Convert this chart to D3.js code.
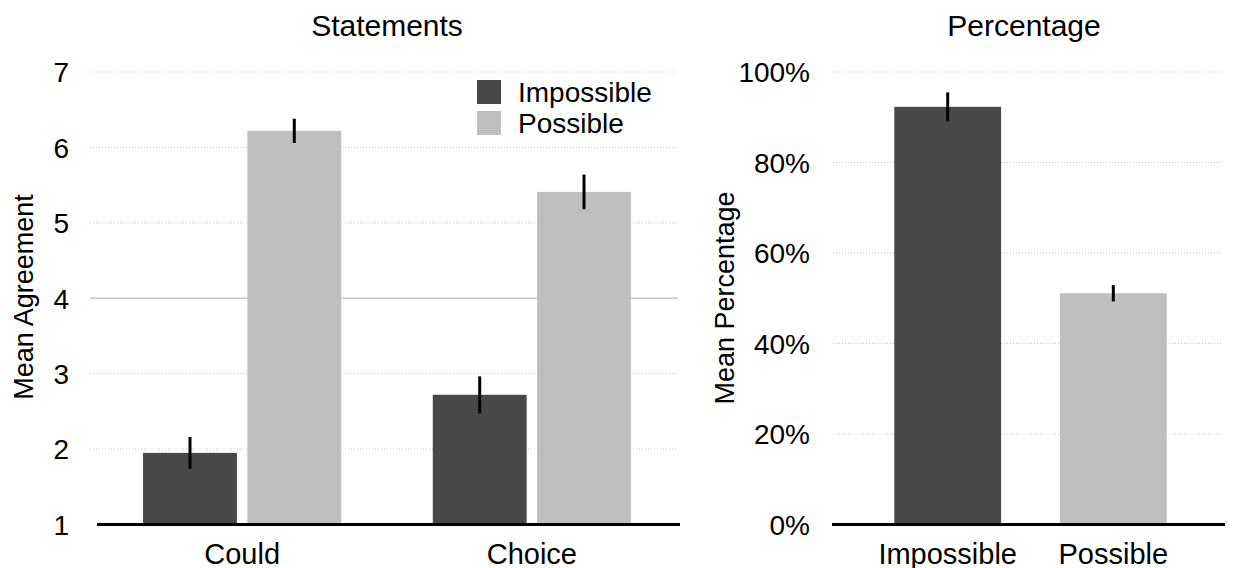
<!DOCTYPE html>
<html>
<head>
<meta charset="utf-8">
<script src="https://cdn.jsdelivr.net/npm/d3@7/dist/d3.min.js"></script>
<style>
  html, body { margin: 0; padding: 0; background: #fff; }
  svg { display: block; }
  text { font-family: "Liberation Sans", Arial, Helvetica, sans-serif; fill: #000; }
</style>
</head>
<body>
<svg id="chart" width="1243" height="568"></svg>
<script>
// Statements panel: mean agreement (1–7) by statement and condition
const statements = ["Could", "Choice"];
const conditions = ["Impossible", "Possible"];
const agreementImpossible = [1.95, 2.72];
const agreementPossible = [6.22, 5.41];
const agreementErrImpossible = [0.21, 0.245];
const agreementErrPossible = [0.16, 0.23];
const agreementTicks = [1, 2, 3, 4, 5, 6, 7];

// Percentage panel: mean percentage by condition
const percentValues = [92.3, 51.1];
const percentErr = [3.2, 1.8];
const percentTicks = [0, 20, 40, 60, 80, 100];

const colors = { Impossible: "#484848", Possible: "#bfbfbf" };

const svg = d3.select("#chart");
const TICK_FS = 28, LABEL_FS = 29, TITLE_FS = 30, AXIS_TITLE_FS = 27, LEGEND_FS = 28;
const yTop = 72, yBottom = 524.5;

// ---------- Left panel ----------
const left = svg.append("g");
const yL = d3.scaleLinear().domain([1, 7]).range([yBottom, yTop]);
const x0 = d3.scaleBand().domain(statements).range([97, 677]).paddingInner(0.316).paddingOuter(0.159);
const x1 = d3.scaleBand().domain(conditions).range([0, x0.bandwidth()]).paddingInner(0.1);

// grid lines (dotted), midpoint line solid
left.append("g").selectAll("line").data(agreementTicks.filter(t => t > 1)).join("line")
  .attr("x1", 90).attr("x2", 678)
  .attr("y1", d => yL(d)).attr("y2", d => yL(d))
  .attr("stroke", d => d === 4 ? "#c6c6c6" : "#c8c8c8")
  .attr("stroke-width", d => d === 4 ? 1.5 : 1)
  .attr("stroke-dasharray", d => d === 4 ? null : "1,2");

const leftRows = statements.map((s, i) => ({
  statement: s,
  bars: [
    { cond: "Impossible", v: agreementImpossible[i], e: agreementErrImpossible[i] },
    { cond: "Possible", v: agreementPossible[i], e: agreementErrPossible[i] }
  ]
}));

const groups = left.append("g").selectAll("g").data(leftRows).join("g")
  .attr("transform", d => `translate(${x0(d.statement)},0)`);
groups.selectAll("rect").data(d => d.bars).join("rect")
  .attr("x", d => x1(d.cond)).attr("width", x1.bandwidth())
  .attr("y", d => yL(d.v)).attr("height", d => yL(1) - yL(d.v))
  .attr("fill", d => colors[d.cond]);
groups.selectAll("line.err").data(d => d.bars).join("line").attr("class", "err")
  .attr("x1", d => x1(d.cond) + x1.bandwidth() / 2).attr("x2", d => x1(d.cond) + x1.bandwidth() / 2)
  .attr("y1", d => yL(d.v + d.e)).attr("y2", d => yL(d.v - d.e))
  .attr("stroke", "#000").attr("stroke-width", 3);

// y tick labels
const yAxisL = d3.axisLeft(yL).tickValues(agreementTicks).tickSize(0).tickPadding(0).tickFormat(d3.format("d"));
left.append("g").attr("transform", "translate(69,0)").call(yAxisL)
  .call(g => g.select(".domain").remove())
  .call(g => g.selectAll("text").attr("font-size", TICK_FS).attr("font-family", null).attr("fill", "#000").attr("dy", "0.35em"));

// baseline + category labels
const xAxisL = d3.axisBottom(x0).tickSize(0).tickPadding(0);
left.append("g").attr("transform", `translate(0,${yBottom})`).call(xAxisL)
  .call(g => g.select(".domain").attr("d", "M97,0H680").attr("stroke", "#000").attr("stroke-width", 3))
  .call(g => g.selectAll("text").attr("font-size", LABEL_FS).attr("font-family", null).attr("fill", "#000").attr("dy", null).attr("y", 39));

left.append("text").attr("x", 387).attr("y", 36).attr("text-anchor", "middle").attr("font-size", TITLE_FS).text("Statements");
left.append("text").attr("transform", "translate(33,297) rotate(-90)").attr("text-anchor", "middle").attr("font-size", AXIS_TITLE_FS).text("Mean Agreement");

// legend
const legend = left.append("g").selectAll("g").data(conditions).join("g")
  .attr("transform", (d, i) => `translate(477,${80 + i * 31})`);
legend.append("rect").attr("width", 24).attr("height", 24).attr("fill", d => colors[d]);
legend.append("text").attr("x", 41).attr("y", 22).attr("font-size", LEGEND_FS).text(d => d);

// ---------- Right panel ----------
const right = svg.append("g");
const yR = d3.scaleLinear().domain([0, 100]).range([yBottom, yTop]);
const xR = d3.scaleBand().domain(conditions).range([833, 1228]).paddingInner(0.355).paddingOuter(0.37);

right.append("g").selectAll("line").data(percentTicks.filter(t => t > 0)).join("line")
  .attr("x1", 833).attr("x2", 1222)
  .attr("y1", d => yR(d)).attr("y2", d => yR(d))
  .attr("stroke", "#c8c8c8").attr("stroke-width", 1).attr("stroke-dasharray", "1,2");

const rightRows = conditions.map((c, i) => ({ cond: c, v: percentValues[i], e: percentErr[i] }));
right.append("g").selectAll("rect").data(rightRows).join("rect")
  .attr("x", d => xR(d.cond)).attr("width", xR.bandwidth())
  .attr("y", d => yR(d.v)).attr("height", d => yR(0) - yR(d.v))
  .attr("fill", d => colors[d.cond]);
right.append("g").selectAll("line").data(rightRows).join("line")
  .attr("x1", d => xR(d.cond) + xR.bandwidth() / 2).attr("x2", d => xR(d.cond) + xR.bandwidth() / 2)
  .attr("y1", d => yR(d.v + d.e)).attr("y2", d => yR(d.v - d.e))
  .attr("stroke", "#000").attr("stroke-width", 3);

const yAxisR = d3.axisLeft(yR).tickValues(percentTicks).tickSize(0).tickPadding(0).tickFormat(d => d + "%");
right.append("g").attr("transform", "translate(810,0)").call(yAxisR)
  .call(g => g.select(".domain").remove())
  .call(g => g.selectAll("text").attr("font-size", TICK_FS).attr("font-family", null).attr("fill", "#000").attr("dy", "0.35em"));

const xAxisR = d3.axisBottom(xR).tickSize(0).tickPadding(0);
right.append("g").attr("transform", `translate(0,${yBottom})`).call(xAxisR)
  .call(g => g.select(".domain").attr("d", "M832,0H1225").attr("stroke", "#000").attr("stroke-width", 3))
  .call(g => g.selectAll("text").attr("font-size", LABEL_FS).attr("font-family", null).attr("fill", "#000").attr("dy", null).attr("y", 39));

right.append("text").attr("x", 1024).attr("y", 36).attr("text-anchor", "middle").attr("font-size", TITLE_FS).text("Percentage");
right.append("text").attr("transform", "translate(734,298) rotate(-90)").attr("text-anchor", "middle").attr("font-size", AXIS_TITLE_FS).text("Mean Percentage");
</script>
</body>
</html>
